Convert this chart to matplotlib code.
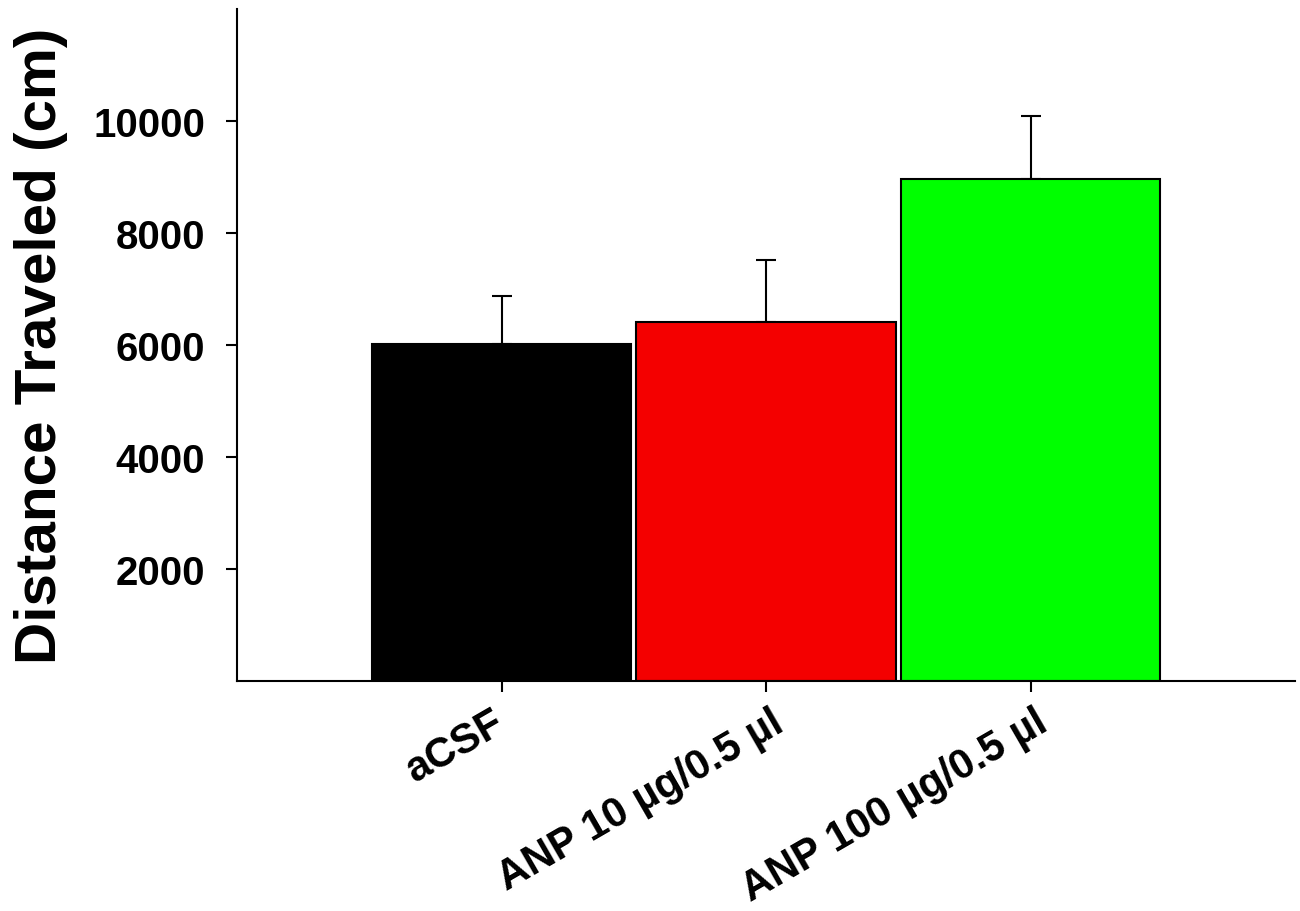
import matplotlib
matplotlib.use("Agg")
import matplotlib.pyplot as plt
from matplotlib.transforms import ScaledTranslation

# Data
groups = ["aCSF", "ANP 10 µg/0.5 µl", "ANP 100 µg/0.5 µl"]
means = [6020, 6410, 8960]
sem = [855, 1105, 1130]
colors = ["#000000", "#f40000", "#00ff00"]
yticks = [2000, 4000, 6000, 8000, 10000]

plt.rcParams["font.family"] = ["Liberation Sans", "DejaVu Sans"]
plt.rcParams["font.weight"] = "bold"

fig = plt.figure(figsize=(13, 9.12), dpi=100)
ax = fig.add_axes([0.1823, 0.2522, 0.8139, 0.7368])

x = list(range(len(groups)))
ax.bar(x, means, width=0.98, color=colors, edgecolor="black", linewidth=1.5, zorder=2)
ax.errorbar(x, means, yerr=[[0] * len(sem), sem], fmt="none", ecolor="black",
            elinewidth=1.5, capsize=7.5, capthick=1.5, zorder=1)

ax.set_xlim(-1, 3)
ax.set_ylim(0, 12000)
ax.set_yticks(yticks)
ax.set_yticklabels([str(v) for v in yticks], fontsize=29, fontweight="bold")
ax.set_xticks(x)
ax.set_xticklabels(groups, fontsize=30, fontweight="bold", rotation=30,
                   ha="right", rotation_mode="anchor")
ax.tick_params(axis="both", direction="out", length=8, width=1.5)
ax.tick_params(axis="y", pad=15)
ax.tick_params(axis="x", pad=7)

# small horizontal nudges (points) for the slanted category labels
label_dx = [-7, 3, 3]
for lbl, dx in zip(ax.get_xticklabels(), label_dx):
    lbl.set_transform(lbl.get_transform() + ScaledTranslation(dx / 72, 0, fig.dpi_scale_trans))

for side in ("top", "right"):
    ax.spines[side].set_visible(False)
for side in ("left", "bottom"):
    ax.spines[side].set_linewidth(1.5)

ax.set_ylabel("Distance Traveled (cm)", fontsize=42, fontweight="bold", labelpad=18)

fig.savefig("out.png", dpi=100)
